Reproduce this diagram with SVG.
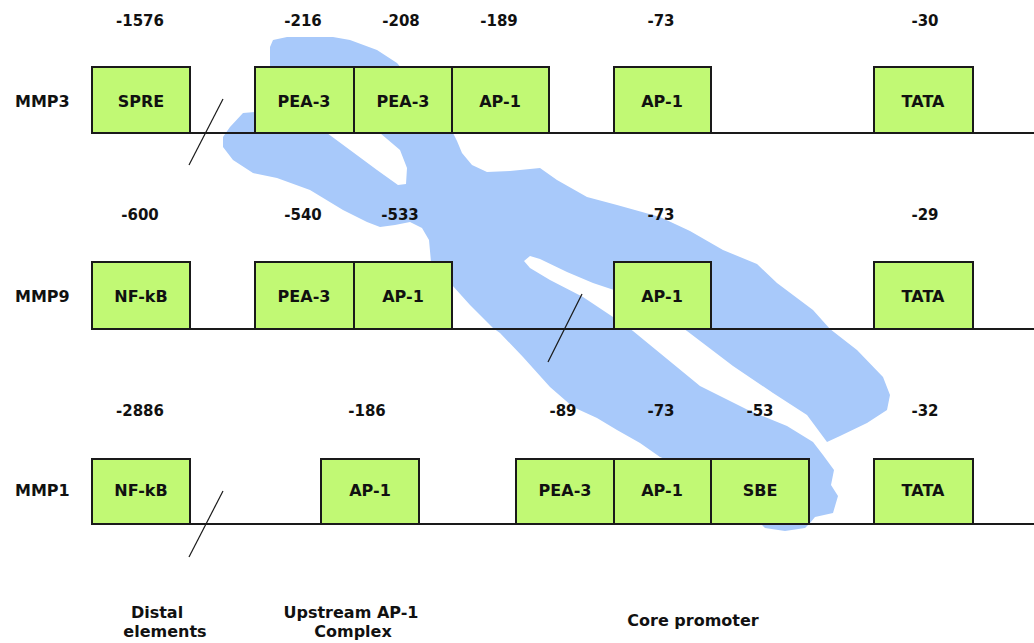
<svg xmlns="http://www.w3.org/2000/svg" width="1034" height="643" viewBox="0 0 1034 643">
  <style>
    .box { fill: #c1f974; stroke: #1a1a1a; stroke-width: 2; }
    .lbl { font-family: "DejaVu Sans", "Liberation Sans", sans-serif; font-weight: bold; font-size: 16px; fill: #111; text-anchor: middle; }
    .num { font-family: "DejaVu Sans", "Liberation Sans", sans-serif; font-weight: bold; font-size: 15px; fill: #111; text-anchor: middle; }
    .gene { font-family: "DejaVu Sans", "Liberation Sans", sans-serif; font-weight: bold; font-size: 16px; fill: #111; }
    .strand { stroke: #1a1a1a; stroke-width: 2; fill: none; }
    .cut { stroke: #1a1a1a; stroke-width: 1.2; fill: none; }
  </style>

  <!-- chromosome silhouette behind the promoter maps -->
  <path id="chromosome" fill="#a8c9fa" fill-rule="evenodd" d="
    M 255,112 L 262,100 L 270,67 L 270,47 L 273,40 L 287,37 L 333,37 L 350,40 L 377,50 L 397,63 L 420,90 L 440,112 L 453,133
    L 457,141 L 462,153 L 472,165 L 487,172 L 510,171 L 540,168 L 557,180 L 587,197 L 617,205 L 660,217 L 690,231
    L 723,250 L 757,264 L 777,283 L 813,310 L 830,329 L 857,350 L 883,377 L 890,395 L 887,410 L 867,423 L 840,436 L 827,442
    L 807,415 L 773,393 L 733,366 L 687,331 L 650,305 L 614,290 L 593,283 L 567,272 L 540,259 L 530,256 L 524,261 L 530,268
    L 550,280 L 583,297 L 613,317 L 633,331 L 700,386 L 750,411 L 787,426 L 813,442
    L 823,455 L 834,470 L 831,485 L 838,496 L 833,513 L 815,517 L 810,523 L 805,528 L 785,531 L 765,528 L 760,523 L 665,459
    L 660,457 L 640,443 L 617,430 L 597,418 L 573,407 L 550,387 L 523,357 L 500,333 L 493,328 L 470,305 L 452,285
    L 440,266 L 431,262 L 429,240 L 422,228 L 410,222 L 395,225 L 380,227 L 367,222 L 343,210 L 310,190 L 277,178
    L 253,173 L 233,160 L 223,147 L 223,137 L 230,127 L 243,113 Z
    M 340,110 L 327,133 L 350,150 L 377,170 L 398,185 L 406,184 L 407,168 L 400,150 L 380,133 L 365,110 Z" />

  <!-- DNA strands and break marks -->
  <g id="connectors">
    <line class="strand" x1="92" y1="133" x2="1034" y2="133" />
    <line class="strand" x1="92" y1="329" x2="1034" y2="329" />
    <line class="strand" x1="92" y1="524" x2="1034" y2="524" />
    <line class="cut" x1="189" y1="165" x2="223" y2="99" />
    <line class="cut" x1="548" y1="362" x2="582" y2="294" />
    <line class="cut" x1="189" y1="557" x2="223" y2="491" />
  </g>

  <!-- gene names -->
  <text class="gene" x="15" y="107">MMP3</text>
  <text class="gene" x="15" y="302">MMP9</text>
  <text class="gene" x="15" y="496">MMP1</text>

  <!-- MMP3 elements -->
  <g id="mmp3-spre"><rect class="box" x="92" y="67" width="98" height="66" /><text class="lbl" x="141" y="107">SPRE</text><text class="num" x="140" y="26">-1576</text></g>
  <g id="mmp3-pea3a"><rect class="box" x="255" y="67" width="99" height="66" /><text class="lbl" x="304" y="107">PEA-3</text><text class="num" x="303" y="26">-216</text></g>
  <g id="mmp3-pea3b"><rect class="box" x="354" y="67" width="98" height="66" /><text class="lbl" x="403" y="107">PEA-3</text><text class="num" x="401" y="26">-208</text></g>
  <g id="mmp3-ap1a"><rect class="box" x="452" y="67" width="97" height="66" /><text class="lbl" x="500" y="107">AP-1</text><text class="num" x="499" y="26">-189</text></g>
  <g id="mmp3-ap1b"><rect class="box" x="614" y="67" width="97" height="66" /><text class="lbl" x="662" y="107">AP-1</text><text class="num" x="661" y="26">-73</text></g>
  <g id="mmp3-tata"><rect class="box" x="874" y="67" width="99" height="66" /><text class="lbl" x="923" y="107">TATA</text><text class="num" x="925" y="26">-30</text></g>

  <!-- MMP9 elements -->
  <g id="mmp9-nfkb"><rect class="box" x="92" y="262" width="98" height="67" /><text class="lbl" x="141" y="302">NF-kB</text><text class="num" x="140" y="220">-600</text></g>
  <g id="mmp9-pea3"><rect class="box" x="255" y="262" width="99" height="67" /><text class="lbl" x="304" y="302">PEA-3</text><text class="num" x="303" y="220">-540</text></g>
  <g id="mmp9-ap1a"><rect class="box" x="354" y="262" width="98" height="67" /><text class="lbl" x="403" y="302">AP-1</text><text class="num" x="400" y="220">-533</text></g>
  <g id="mmp9-ap1b"><rect class="box" x="614" y="262" width="97" height="67" /><text class="lbl" x="662" y="302">AP-1</text><text class="num" x="661" y="220">-73</text></g>
  <g id="mmp9-tata"><rect class="box" x="874" y="262" width="99" height="67" /><text class="lbl" x="923" y="302">TATA</text><text class="num" x="925" y="220">-29</text></g>

  <!-- MMP1 elements -->
  <g id="mmp1-nfkb"><rect class="box" x="92" y="459" width="98" height="65" /><text class="lbl" x="141" y="496">NF-kB</text><text class="num" x="140" y="416">-2886</text></g>
  <g id="mmp1-ap1a"><rect class="box" x="321" y="459" width="98" height="65" /><text class="lbl" x="370" y="496">AP-1</text><text class="num" x="367" y="416">-186</text></g>
  <g id="mmp1-pea3"><rect class="box" x="516" y="459" width="98" height="65" /><text class="lbl" x="565" y="496">PEA-3</text><text class="num" x="563" y="416">-89</text></g>
  <g id="mmp1-ap1b"><rect class="box" x="614" y="459" width="97" height="65" /><text class="lbl" x="662" y="496">AP-1</text><text class="num" x="661" y="416">-73</text></g>
  <g id="mmp1-sbe"><rect class="box" x="711" y="459" width="98" height="65" /><text class="lbl" x="760" y="496">SBE</text><text class="num" x="760" y="416">-53</text></g>
  <g id="mmp1-tata"><rect class="box" x="874" y="459" width="99" height="65" /><text class="lbl" x="923" y="496">TATA</text><text class="num" x="925" y="416">-32</text></g>

  <!-- region captions -->
  <text class="lbl" x="157" y="618">Distal</text>
  <text class="lbl" x="165" y="637">elements</text>
  <text class="lbl" x="351" y="618">Upstream AP-1</text>
  <text class="lbl" x="353" y="637">Complex</text>
  <text class="lbl" x="693" y="626">Core promoter</text>
</svg>
